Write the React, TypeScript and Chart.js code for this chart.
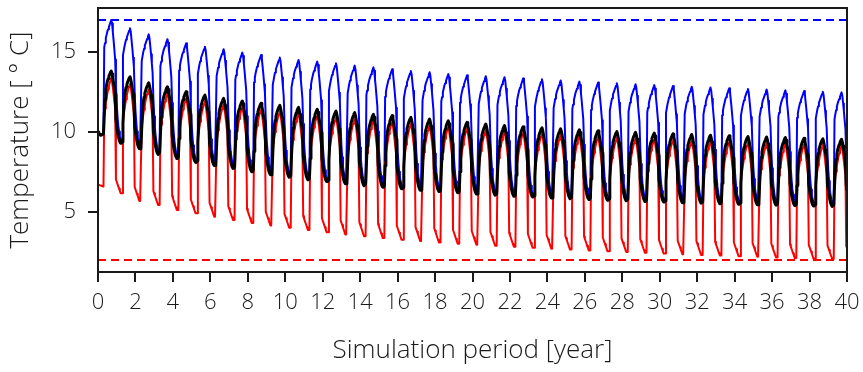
import { useEffect, useRef } from 'react';
import { Chart, registerables } from 'chart.js';

Chart.register(...registerables);

// ---- axis ticks / limits ----
const xTickValues = [0, 2, 4, 6, 8, 10, 12, 14, 16, 18, 20, 22, 24, 26, 28, 30, 32, 34, 36, 38, 40];
const yTickValues = [5, 10, 15];
const yMin = 1.25;
const yMax = 17.75;
const upperLimit = 17; // blue dashed
const lowerLimit = 2; // red dashed

// ---- yearly peaks (one per year, 0..39) ----
const bluePeak = [17.0, 16.48, 16.1, 15.8, 15.54, 15.33, 15.17, 14.96, 14.81, 14.65, 14.5, 14.4, 14.29, 14.15, 14.04, 13.92, 13.81, 13.73, 13.62, 13.54, 13.48, 13.42, 13.35, 13.29, 13.22, 13.15, 13.09, 13.04, 12.98, 12.93, 12.88, 12.83, 12.78, 12.73, 12.69, 12.65, 12.6, 12.56, 12.52, 12.48];
const blackPeak = [13.81, 13.46, 13.08, 12.83, 12.52, 12.31, 12.1, 11.94, 11.79, 11.67, 11.54, 11.42, 11.31, 11.21, 11.1, 11.02, 10.92, 10.81, 10.7, 10.6, 10.5, 10.4, 10.33, 10.27, 10.2, 10.14, 10.08, 10.03, 9.98, 9.93, 9.88, 9.84, 9.8, 9.76, 9.72, 9.68, 9.65, 9.61, 9.58, 9.55];
const redPeak = [13.35, 13.0, 12.65, 12.4, 12.1, 11.9, 11.7, 11.52, 11.38, 11.27, 11.13, 11.0, 10.9, 10.8, 10.7, 10.6, 10.5, 10.4, 10.3, 10.2, 10.1, 10.0, 9.93, 9.87, 9.8, 9.74, 9.68, 9.63, 9.58, 9.53, 9.48, 9.44, 9.4, 9.36, 9.32, 9.28, 9.25, 9.21, 9.18, 9.15];

// ---- troughs (index 0 = start, index n = trough early in year n) ----
const blueTrough = [9.85, 9.5, 9.15, 8.8, 8.55, 8.3, 8.1, 7.93, 7.72, 7.53, 7.37, 7.22, 7.1, 6.96, 6.84, 6.74, 6.65, 6.56, 6.48, 6.4, 6.32, 6.25, 6.19, 6.13, 6.08, 6.03, 5.98, 5.94, 5.9, 5.86, 5.82, 5.78, 5.75, 5.72, 5.69, 5.66, 5.63, 5.6, 5.57, 5.55, 5.53];
const blackTrough = [9.85, 9.3, 8.95, 8.6, 8.35, 8.1, 7.9, 7.73, 7.52, 7.33, 7.17, 7.02, 6.9, 6.76, 6.64, 6.54, 6.45, 6.36, 6.28, 6.2, 6.12, 6.05, 5.99, 5.93, 5.88, 5.83, 5.78, 5.74, 5.7, 5.66, 5.62, 5.58, 5.55, 5.52, 5.49, 5.46, 5.43, 5.4, 5.37, 5.35, 5.33];
const redTrough = [6.6, 6.17, 5.69, 5.44, 5.13, 4.92, 4.71, 4.5, 4.32, 4.16, 4.02, 3.88, 3.74, 3.6, 3.48, 3.37, 3.27, 3.18, 3.1, 3.02, 2.95, 2.89, 2.83, 2.77, 2.71, 2.65, 2.6, 2.55, 2.5, 2.45, 2.4, 2.36, 2.32, 2.28, 2.24, 2.2, 2.16, 2.12, 2.09, 2.06, 2.03];

// ---- start of the simulation (first part of year 0) ----
const blueStart = [10.0, 9.95, 9.9, 9.85, 9.85, 9.85, 9.85, 9.9];
const blackStart = [10.0, 9.9, 9.85, 9.8, 9.8, 9.8, 9.85, 9.9];
const redStart = [6.7, 6.7, 6.68, 6.66, 6.64, 6.62, 6.6, 6.6];

// ---- within-year cycle shape read from one cycle (fraction between trough and peak) ----
// tail: first 8 samples of a year (decay after previous peak), rise: 10 samples, fall: 6 samples
const blueTail = [0.3, 0.2, 0.12, 0.07, 0.03, 0.01, 0.0, 0.0];
const blueRise = [0.76, 0.8, 0.84, 0.87, 0.9, 0.92, 0.94, 0.96, 0.98, 1.0];
const blueFall = [0.97, 0.9, 0.83, 0.75, 0.67, 0.45];
const blackTail = [0.24, 0.16, 0.1, 0.05, 0.02, 0.0, 0.0, 0.02];
const blackRise = [0.3, 0.55, 0.7, 0.78, 0.84, 0.88, 0.92, 0.95, 0.98, 1.0];
const blackFall = [0.96, 0.9, 0.83, 0.76, 0.68, 0.32];
const redTail = [0.1, 0.08, 0.06, 0.04, 0.02, 0.0, 0.0, 0.0];
const redRise = [0.66, 0.72, 0.77, 0.82, 0.86, 0.9, 0.93, 0.96, 0.98, 1.0];
const redFall = [0.97, 0.92, 0.86, 0.8, 0.74, 0.12];

function buildSeries(start: number[], trough: number[], peak: number[], tail: number[], rise: number[], fall: number[]) {
  const per = tail.length + rise.length + fall.length;
  const pts: { x: number; y: number }[] = [];
  for (let n = 0; n < peak.length; n++) {
    for (let k = 0; k < per; k++) {
      const x = n + k / per;
      let y: number;
      if (k < tail.length) {
        y = n === 0 ? start[k] : trough[n] + (peak[n - 1] - trough[n]) * tail[k];
      } else if (k < tail.length + rise.length) {
        y = trough[n] + (peak[n] - trough[n]) * rise[k - tail.length];
      } else {
        y = trough[n + 1] + (peak[n] - trough[n + 1]) * fall[k - tail.length - rise.length];
      }
      pts.push({ x, y });
    }
  }
  const N = peak.length;
  pts.push({ x: N, y: trough[N] + (peak[N - 1] - trough[N]) * tail[0] });
  return pts;
}

const FONT = '"Open Sans", "Noto Sans", sans-serif';
const TEXT = '#1a1a1a';

const framePlugin = {
  id: 'frame',
  afterDatasetsDraw(chart: any) {
    const { ctx, chartArea: a } = chart;
    ctx.save();
    ctx.strokeStyle = TEXT;
    ctx.lineWidth = 2;
    ctx.strokeRect(a.left, a.top, a.right - a.left, a.bottom - a.top);
    ctx.restore();
  },
};

export default function App() {
  const ref = useRef<HTMLCanvasElement | null>(null);
  useEffect(() => {
    if (!ref.current) return;
    const blue = buildSeries(blueStart, blueTrough, bluePeak, blueTail, blueRise, blueFall);
    const black = buildSeries(blackStart, blackTrough, blackPeak, blackTail, blackRise, blackFall);
    const red = buildSeries(redStart, redTrough, redPeak, redTail, redRise, redFall);
    const xEnd = xTickValues[xTickValues.length - 1];
    const chart = new Chart(ref.current, {
      type: 'line',
      data: {
        datasets: [
          { data: black, borderColor: '#000000', borderWidth: 3, order: 0 },
          { data: red, borderColor: '#ff0000', borderWidth: 2, order: 1 },
          { data: blue, borderColor: '#0000ff', borderWidth: 2, order: 2 },
          { data: [{ x: 0, y: upperLimit }, { x: xEnd, y: upperLimit }], borderColor: '#0000ff', borderWidth: 2, borderDash: [8, 5], order: 3 },
          { data: [{ x: 0, y: lowerLimit }, { x: xEnd, y: lowerLimit }], borderColor: '#ff0000', borderWidth: 2, borderDash: [8, 5], order: 3 },
        ] as any,
      },
      options: {
        animation: false,
        responsive: true,
        maintainAspectRatio: false,
        parsing: false,
        normalized: true,
        elements: { point: { radius: 0 }, line: { tension: 0, fill: false, borderCapStyle: 'butt', borderJoinStyle: 'round' } },
        layout: { padding: { left: 0, right: 16, top: 8, bottom: 0 } },
        plugins: { legend: { display: false }, tooltip: { enabled: false } },
        scales: {
          x: {
            type: 'linear',
            min: 0,
            max: xEnd,
            afterFit(scale: any) { scale.height = 100; scale.paddingLeft = 0; scale.paddingRight = 0; },
            afterBuildTicks(scale: any) { scale.ticks = xTickValues.map((v) => ({ value: v })); },
            ticks: { font: { family: FONT, size: 22, weight: 300 as any }, color: TEXT, padding: 8, maxRotation: 0, autoSkip: false, callback: (v: any) => String(v) },
            grid: { drawOnChartArea: false, drawTicks: true, tickLength: 10, color: TEXT, lineWidth: 2 },
            border: { display: false },
            title: { display: true, text: 'Simulation period [year]', font: { family: FONT, size: 26, weight: 300 as any }, color: TEXT, padding: { top: 0, bottom: 6 } },
          },
          y: {
            type: 'linear',
            min: yMin,
            max: yMax,
            afterFit(scale: any) { scale.width = 98; scale.paddingTop = 0; scale.paddingBottom = 0; },
            afterBuildTicks(scale: any) { scale.ticks = yTickValues.map((v) => ({ value: v })); },
            ticks: { font: { family: FONT, size: 22, weight: 300 as any }, color: TEXT, padding: 12, callback: (v: any) => String(v) },
            grid: { drawOnChartArea: false, drawTicks: true, tickLength: 10, color: TEXT, lineWidth: 2 },
            border: { display: false },
            title: { display: true, text: 'Temperature [ ° C]', font: { family: FONT, size: 26, weight: 300 as any }, color: TEXT, padding: { top: 5, bottom: 0 } },
          },
        },
      } as any,
      plugins: [framePlugin],
    });
    return () => chart.destroy();
  }, []);
  return (
    <div style={{ position: 'fixed', left: 0, top: 0, width: 863, height: 372 }}>
      <canvas ref={ref} />
    </div>
  );
}
